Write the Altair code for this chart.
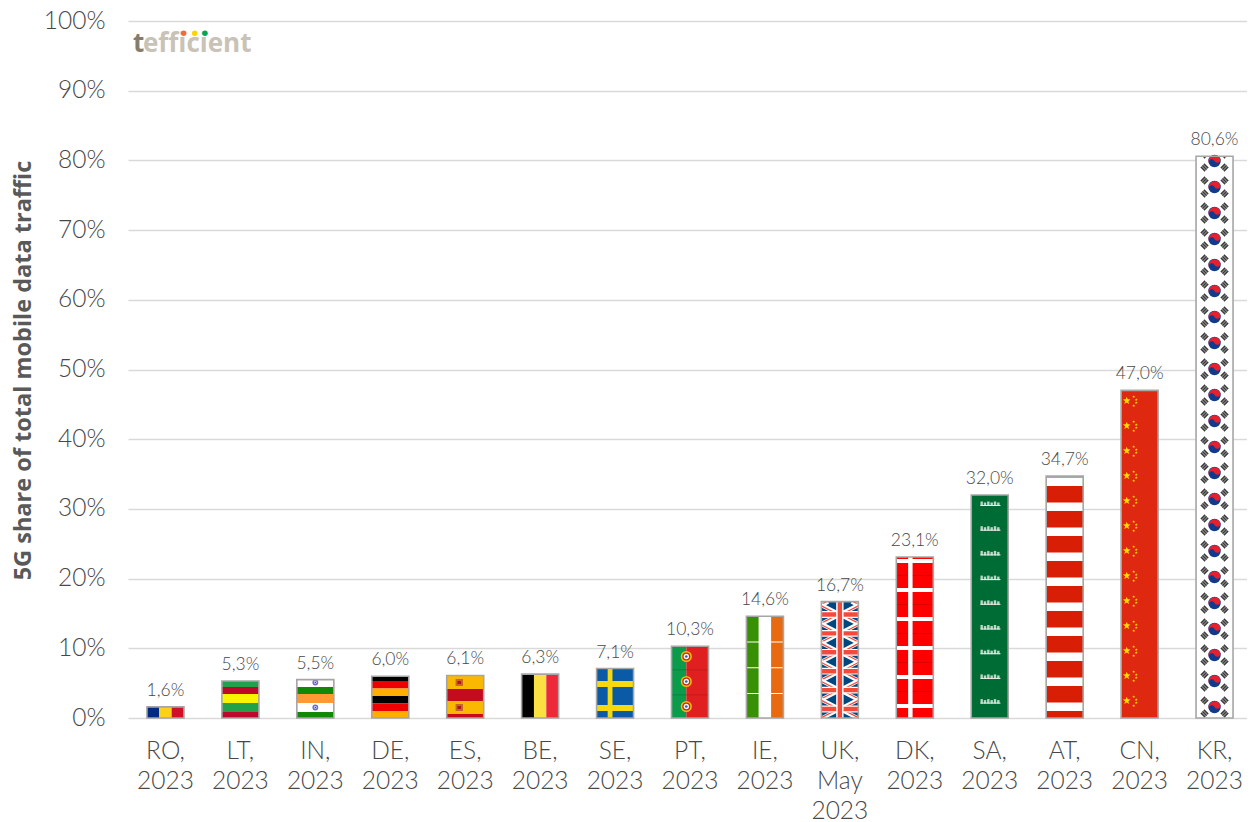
import math
import altair as alt
import pandas as pd

categories = ["RO, 2023", "LT, 2023", "IN, 2023", "DE, 2023", "ES, 2023", "BE, 2023", "SE, 2023", "PT, 2023",
              "IE, 2023", "UK, May 2023", "DK, 2023", "SA, 2023", "AT, 2023", "CN, 2023", "KR, 2023"]
values = [1.6, 5.3, 5.5, 6.0, 6.1, 6.3, 7.1, 10.3, 14.6, 16.7, 23.1, 32.0, 34.7, 47.0, 80.6]
value_labels = ["1,6%", "5,3%", "5,5%", "6,0%", "6,1%", "6,3%", "7,1%", "10,3%", "14,6%", "16,7%", "23,1%",
                "32,0%", "34,7%", "47,0%", "80,6%"]
y_ticks = list(range(0, 101, 10))

PW, PH = 1124, 697
TOP, BASE = 21, 718
STEP = PW / 15
BW = 37.0

rects, overs, lines, points = [], [], [], []


def px_to_val(y):
    return (BASE - y) / PH * 100


def px_to_x(i, u):
    return i + 0.5 + (u - 0.5) * BW / STEP


def bar_top(i):
    return BASE - values[i] / 100 * PH


def rect(i, u0, u1, y0, y1, color, layer=None):
    top = bar_top(i)
    y0, y1 = max(y0, top), min(y1, BASE)
    if y1 <= y0:
        return
    (layer if layer is not None else rects).append(dict(x=px_to_x(i, u0), x2=px_to_x(i, u1),
                                                       y=px_to_val(y0), y2=px_to_val(y1), c=color))


def line(i, u0, y0, u1, y1, color, w):
    top = bar_top(i)
    if y0 > y1:
        u0, y0, u1, y1 = u1, y1, u0, y0
    if y1 <= top or y0 >= BASE:
        return
    def at(y):
        return u0 + (u1 - u0) * (y - y0) / (y1 - y0) if y1 != y0 else u0
    ya, yb = max(y0, top), min(y1, BASE)
    lines.append(dict(x=px_to_x(i, at(ya)), x2=px_to_x(i, at(yb)), y=px_to_val(ya), y2=px_to_val(yb), c=color, w=w))


def point(i, u, y, d, color, shape="circle"):
    if y < bar_top(i) - 2 or y > BASE + 1:
        return
    points.append(dict(x=px_to_x(i, u), y=px_to_val(y), z=math.pi * d * d / 4, c=color, s=shape))


def tiles(i, anchor, h):
    top = bar_top(i)
    t = anchor
    while t > top:
        t -= h
    while t < BASE:
        yield t
        t += h


def star_path():
    pts = []
    for k in range(10):
        r = 1 if k % 2 == 0 else 0.42
        a = -math.pi / 2 + k * math.pi / 5
        pts.append(f"{r * math.cos(a):.3f},{r * math.sin(a):.3f}")
    return "M" + "L".join(pts) + "Z"


STAR = star_path()
RED_HALF = "M-.92,.38A1,1 0 0 1 .92,-.38A.5,.5 0 0 1 0,0A.5,.5 0 0 0 -.92,.38Z"


def vstripes(i, colors):
    for k, c in enumerate(colors):
        rect(i, k / len(colors), (k + 1) / len(colors), 0, BASE, c)


# RO
vstripes(0, ["#002b7f", "#fcd116", "#ce1126"])
# LT
for t in tiles(1, 694, 25):
    rect(1, 0, 1, t, t + 9, "#f8f400"); rect(1, 0, 1, t + 9, t + 18, "#23a04a"); rect(1, 0, 1, t + 18, t + 25, "#c1062c")
# IN
for t in tiles(2, 694, 25):
    rect(2, 0, 1, t, t + 9, "#ff9933"); rect(2, 0, 1, t + 9, t + 18, "#ffffff"); rect(2, 0, 1, t + 18, t + 25, "#138808")
    point(2, .5, t + 13.5, 6.5, "#6a6fc0"); point(2, .5, t + 13.5, 3.2, "#d8d8f0"); point(2, .5, t + 13.5, 1.5, "#3a3f98")
# DE
for t in tiles(3, 696, 22.5):
    rect(3, 0, 1, t, t + 7.5, "#000000"); rect(3, 0, 1, t + 7.5, t + 15, "#ee0000"); rect(3, 0, 1, t + 15, t + 22.5, "#ffae00")
# ES
for t in tiles(4, 701, 25):
    rect(4, 0, 1, t, t + 13, "#fbb800"); rect(4, 0, 1, t + 13, t + 25, "#c60b1e")
    rect(4, .24, .44, t + 3, t + 10, "#c8662a", overs); rect(4, .29, .39, t + 5, t + 8, "#b01818", overs)
# BE
vstripes(5, ["#000000", "#fae042", "#ed2939"])
# SE
rect(6, 0, 1, 0, BASE, "#0a5aa5")
for t in tiles(6, 672, 24):
    rect(6, 0, 1, t + 9, t + 15, "#f5d90e")
rect(6, .3, .43, 0, BASE, "#f5d90e")
# PT
rect(7, 0, .4, 0, BASE, "#0a9c4a"); rect(7, .4, 1, 0, BASE, "#e02020")
for t in tiles(7, 669.5, 25):
    rect(7, 0, .4, t, t + .8, "#0a7a3a"); rect(7, .4, 1, t, t + .8, "#b81818")
    c = t + 12
    point(7, .4, c, 12.5, "#f1bf00"); point(7, .4, c, 9, "#d02020"); point(7, .4, c, 6, "#ffffff"); point(7, .4, c, 3, "#3a5aa8")
# IE
rect(8, 0, 1 / 3, 0, BASE, "#389005"); rect(8, 1 / 3, 2 / 3, 0, BASE, "#ffffff"); rect(8, 2 / 3, 1, 0, BASE, "#e86a10")
for t in tiles(8, 642, 25.7):
    rect(8, 0, 1, t - .4, t + .5, "#ffffff")
# UK
H = 18.9
rect(9, 0, 1, 0, BASE, "#00477f")
for t in tiles(9, 699.55, H):
    line(9, 0, t, 1, t + H, "#ffffff", 4.2)
    line(9, 1, t, 0, t + H, "#ffffff", 4.2)
    line(9, 0, t + .8, .5, t + H / 2 + .8, "#f04a3a", 1.2)
    line(9, .5, t + H / 2 - .8, 1, t + H - .8, "#f04a3a", 1.2)
    line(9, 1, t + .8, .5, t + H / 2 + .8, "#f04a3a", 1.2)
    line(9, .5, t + H / 2 - .8, 0, t + H - .8, "#f04a3a", 1.2)
    rect(9, 0, 1, t + H / 2 - 3.4, t + H / 2 + 3.4, "#ffffff", overs)
    rect(9, 0, 1, t + H / 2 - 2.2, t + H / 2 + 2.2, "#f44a3a", overs)
rect(9, .40, .60, 0, BASE, "#ffffff", overs)
rect(9, .44, .56, 0, BASE, "#f44a3a", overs)
# DK
rect(10, 0, 1, 0, BASE, "#ff0000")
for t in tiles(10, 604, 29):
    rect(10, 0, 1, t, t + .7, "#d00000")
    rect(10, 0, 1, t + 13, t + 17, "#ffffff")
rect(10, .32, .44, 0, BASE, "#ffffff")
# SA
rect(11, 0, 1, 0, BASE, "#006c35")
for t in tiles(11, 495, 24.7):
    for k in range(6):
        u = .25 + k * .09
        rect(11, u, u + .065, t + 6.5 + (k % 2), t + 11, "#b8d6c4")
    rect(11, .25, .79, t + 10, t + 11, "#e8f2ec")
    line(11, .34, t + 17.7, .73, t + 17.7, "#dfeee6", 1.2)
# AT
rect(12, 0, 1, 0, BASE, "#d81e05")
for t in tiles(12, 477.5, 25):
    rect(12, 0, 1, t, t + 8.6, "#ffffff")
# CN
rect(13, 0, 1, 0, BASE, "#de2910")
for t in tiles(13, 400.7 - 12, 25):
    c = t + 12
    point(13, .152, c, 9, "#ffde00", STAR)
    point(13, .34, c - 4, 3.4, "#ffde00", STAR)
    point(13, .41, c - 1, 3.4, "#ffde00", STAR)
    point(13, .41, c + 2, 3.4, "#ffde00", STAR)
    point(13, .34, c + 5, 3.4, "#ffde00", STAR)
# KR
rect(14, 0, 1, 0, BASE, "#ffffff")
for t in tiles(14, 161 - 13, 26):
    c = t + 13
    point(14, .5, c, 14, "#123a8c")
    point(14, .5, c, 14, "#e8202c", RED_HALF)
    for sx in (-1, 1):
        for sy in (-1, 1):
            cx, cy = sx * 10, sy * 6.5
            rx, ry = sx * .707, sy * .707
            px, py = -ry, rx
            for off in (-2.1, 0, 2.1):
                mx, my = cx + rx * off, cy + ry * off
                line(14, .5 + (mx - px * 3.0) / BW, c + my - py * 3.0, .5 + (mx + px * 3.0) / BW, c + my + py * 3.0, "#3a3a3a", 1.6)

base = pd.DataFrame({"cat": categories, "v": values, "lab": value_labels})
# The canvas may not be wider than the page body, so the scale's range is stated in plot pixels.
x_band = alt.Scale(domain=categories, paddingInner=0.506, paddingOuter=0.253, range=[0, PW])
x_q = alt.Scale(domain=[0, 15], nice=False, zero=False, range=[0, PW])
y_s = alt.Scale(domain=[0, 100], nice=False)

axis_font = "Lato"
text_color = "#474747"
bars = alt.Chart(base).mark_bar(color="#ffffff", size=BW).encode(
    x=alt.X("cat:N", scale=x_band, sort=None, title=None,
            axis=alt.Axis(labelExpr="split(datum.value, ' ')", labelAngle=0, domain=False, ticks=False,
                          labelFont=axis_font, labelFontSize=24.5, labelFontWeight=300, labelColor=text_color,
                          labelPadding=21, labelLineHeight=30, labelLimit=0, labelOverlap=False,
                          labelBaseline="top")),
    y=alt.Y("v:Q", scale=y_s, title="5G share of total mobile data traffic",
            axis=alt.Axis(values=y_ticks, labelExpr="datum.value + '%'", domain=False, ticks=False,
                          grid=True, gridColor="#d9d9d9", gridWidth=1.4, labelFont=axis_font, labelFontSize=24.5,
                          labelFontWeight=300, labelColor=text_color, labelPadding=23, titleFont="Open Sans",
                          titleFontSize=23.5, titleFontWeight="bold", titleColor="#595959", titleX=-93,
                          titleY=349)),
)


def rect_layer(rows):
    return alt.Chart(pd.DataFrame(rows)).mark_rect().encode(
        x=alt.X("x:Q", scale=x_q, axis=None), x2="x2:Q",
        y=alt.Y("y:Q", scale=y_s, axis=None), y2="y2:Q",
        color=alt.Color("c:N", scale=None))


rule_layer = alt.Chart(pd.DataFrame(lines)).mark_rule().encode(
    x=alt.X("x:Q", scale=x_q, axis=None), x2="x2:Q",
    y=alt.Y("y:Q", scale=y_s, axis=None), y2="y2:Q",
    color=alt.Color("c:N", scale=None), strokeWidth=alt.StrokeWidth("w:Q", scale=None))

point_layer = alt.Chart(pd.DataFrame(points)).mark_point(filled=True, opacity=1, strokeWidth=0).encode(
    x=alt.X("x:Q", scale=x_q, axis=None),
    y=alt.Y("y:Q", scale=y_s, axis=None),
    size=alt.Size("z:Q", scale=None), color=alt.Color("c:N", scale=None), shape=alt.Shape("s:N", scale=None))

outline = alt.Chart(base).mark_bar(fillOpacity=0, fill="#ffffff", stroke="#a6a6a6", strokeWidth=1.6, size=BW).encode(
    x=alt.X("cat:N", scale=x_band, sort=None, axis=None), y=alt.Y("v:Q", scale=y_s, axis=None))

texts = alt.Chart(base).mark_text(font=axis_font, fontSize=17.5, fontWeight=300, color=text_color, baseline="bottom",
                                  dy=-7).encode(
    x=alt.X("cat:N", scale=x_band, sort=None, axis=None), y=alt.Y("v:Q", scale=y_s, axis=None), text="lab:N")

logo_t = alt.Chart(pd.DataFrame({"t": ["t"]})).mark_text(font="Open Sans", fontSize=26, fontWeight="bold", color="#857c6c",
                                                          align="left", baseline="alphabetic").encode(
    x=alt.value(5), y=alt.value(31), text="t:N")
logo_e = alt.Chart(pd.DataFrame({"t": ["efficient"]})).mark_text(font="Open Sans", fontSize=26, fontWeight="bold",
                                                                 color="#c9c2b6", align="left",
                                                                 baseline="alphabetic").encode(
    x=alt.value(15), y=alt.value(31), text="t:N")
dot_layers = [
    alt.Chart(pd.DataFrame({"a": [1]})).mark_point(filled=True, opacity=1, size=30, color=col, strokeWidth=0).encode(
        x=alt.value(xp), y=alt.value(12.3))
    for xp, col in [(55.7, "#f26a36"), (66.7, "#ffd400"), (77, "#00a651")]
]

chart = alt.layer(
    bars, rect_layer(rects), rule_layer, rect_layer(overs), point_layer, outline, texts, logo_t, logo_e, *dot_layers
).resolve_scale(x="independent").resolve_axis(y="independent").properties(
    width=PW - 5, height=PH, autosize=alt.AutoSizeParams(type="none"),
    padding={"left": 120, "top": 13, "right": 0, "bottom": 110},
).configure_view(stroke=None)

chart.save("out.html", embed_options={"renderer": "svg", "actions": False})
